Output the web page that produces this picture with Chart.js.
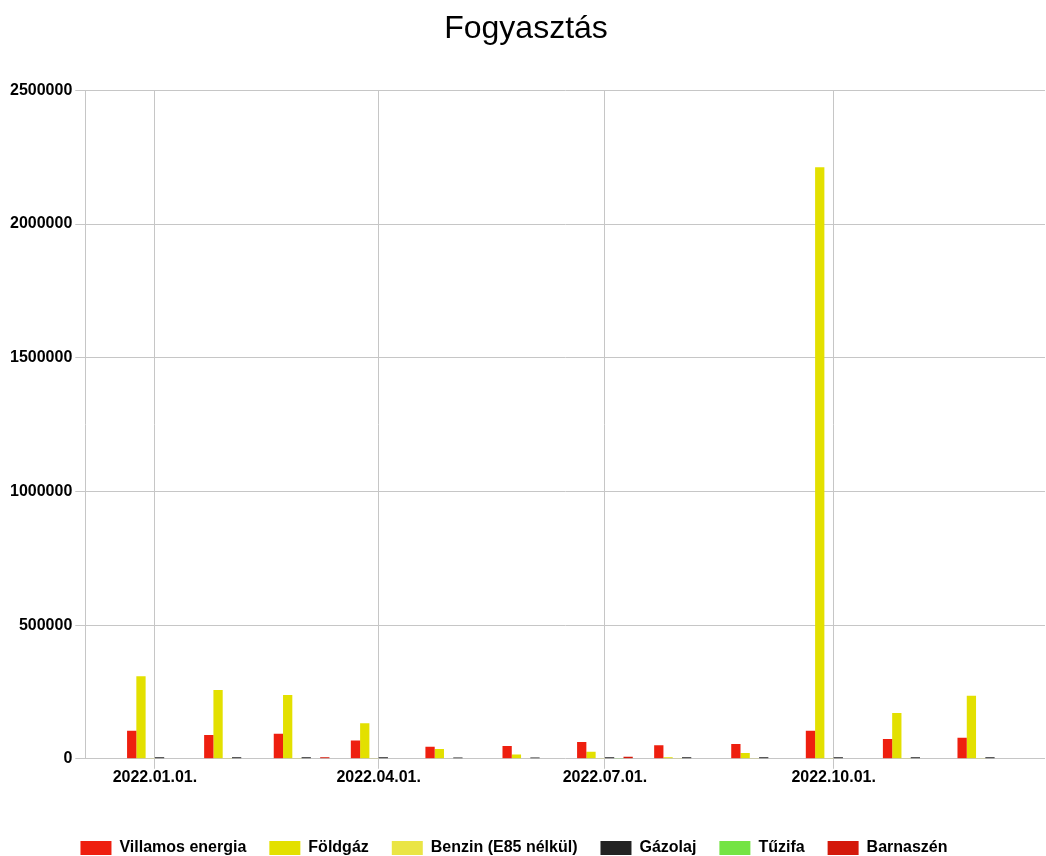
<!DOCTYPE html>
<html>
<head>
<meta charset="utf-8">
<title>Fogyasztás</title>
<script src="https://cdn.jsdelivr.net/npm/chart.js@4.4.0/dist/chart.umd.min.js"></script>
<style>
    html, body { margin: 0; padding: 0; background: #fff; }
    #wrap { width: 1046px; height: 856px; }
</style>
</head>
<body>
<div id="wrap"><canvas id="fogyChart"></canvas></div>
<script>
// Months (first day of each month, 2022)
const months = ['2022-01-01', '2022-02-01', '2022-03-01', '2022-04-01', '2022-05-01', '2022-06-01',
                '2022-07-01', '2022-08-01', '2022-09-01', '2022-10-01', '2022-11-01', '2022-12-01'];

// Series values
const villamos  = [105000, 89000, 94000, 68000, 45000, 48000, 63000, 51000, 55000, 105000, 74000, 79000];
const foldgaz   = [309000, 257000, 239000, 133000, 37000, 16000, 26000, 6000, 22000, 2213000, 171000, 236000];
const benzin    = [3000, 3000, 3000, 3000, 2000, 2000, 3000, 3000, 3000, 3000, 3000, 3000];
const gazolaj   = [6000, 6000, 6000, 6000, 5000, 5000, 6000, 6000, 6000, 6000, 6000, 6000];
const tuzifa    = [0, 0, 0, 0, 0, 0, 3000, 0, 0, 0, 0, 0];
const barnaszen = [0, 0, 6000, 0, 0, 0, 8000, 0, 0, 0, 0, 0];

// Tick labels on the date axis
const tickDates  = ['2022-01-01', '2022-04-01', '2022-07-01', '2022-10-01'];
const tickLabels = ['2022.01.01.', '2022.04.01.', '2022.07.01.', '2022.10.01.'];
const yTicks     = [0, 500000, 1000000, 1500000, 2000000, 2500000];

// days since 2022-01-01
const dayOf = function(s) {
    return Math.round((Date.parse(s + 'T00:00:00Z') - Date.UTC(2022, 0, 1)) / 86400000);
};
const monthDays = months.map(dayOf);
const tickDays = tickDates.map(dayOf);

function points(values) {
    return values.map((v, i) => ({ x: monthDays[i], y: v }));
}

const font = { family: "'Liberation Sans', Arial, sans-serif", size: 16, weight: 'bold' };
const gridColor = '#c6c6c6';

// legend in the reference sits a bit left of centre
const legendShift = {
    id: 'legendShift',
    afterLayout(chart) {
        chart.legend.left -= 12;
        chart.legend.right -= 12;
    }
};

new Chart(document.getElementById('fogyChart').getContext('2d'), {
    type: 'bar',
    data: {
        datasets: [
            { label: 'Villamos energia', data: points(villamos), backgroundColor: '#ee1f0f' },
            { label: 'Földgáz', data: points(foldgaz), backgroundColor: '#e3e000' },
            { label: 'Benzin (E85 nélkül)', data: points(benzin), backgroundColor: '#eae545' },
            { label: 'Gázolaj', data: points(gazolaj), backgroundColor: '#222222' },
            { label: 'Tűzifa', data: points(tuzifa), backgroundColor: '#74e444' },
            { label: 'Barnaszén', data: points(barnaszen), backgroundColor: '#d4180a' }
        ]
    },
    plugins: [legendShift],
    options: {
        responsive: true,
        maintainAspectRatio: false,
        animation: false,
        layout: { padding: { left: 7, right: 1, top: 4, bottom: -10 } },
        datasets: {
            bar: { categoryPercentage: 0.8, barPercentage: 1.0 }
        },
        plugins: {
            title: {
                display: true,
                text: 'Fogyasztás',
                color: '#000',
                font: { family: "'Liberation Sans', Arial, sans-serif", size: 32, weight: 'normal' },
                padding: { top: 6, bottom: 42 }
            },
            legend: {
                position: 'bottom',
                labels: {
                    color: '#000',
                    font: font,
                    boxWidth: 31,
                    boxHeight: 14,
                    padding: 23
                }
            },
            tooltip: { enabled: false }
        },
        scales: {
            x: {
                type: 'linear',
                min: -28,
                max: 358,
                offset: false,
                grid: { offset: false, color: gridColor, tickLength: 10 },
                border: { display: false },
                afterBuildTicks: function(scale) {
                    scale.ticks = tickDays.map(d => ({ value: d }));
                },
                afterFit: function(scale) {
                    scale.height += 31;
                },
                ticks: {
                    color: '#000',
                    font: font,
                    maxRotation: 0,
                    padding: -1,
                    callback: function(value) {
                        const i = tickDays.indexOf(value);
                        return i >= 0 ? tickLabels[i] : '';
                    }
                }
            },
            y: {
                min: 0,
                max: 2500000,
                afterBuildTicks: function(scale) {
                    scale.ticks = yTicks.map(v => ({ value: v }));
                },
                grid: { color: gridColor, tickLength: 10 },
                border: { display: true, color: gridColor },
                ticks: {
                    color: '#000',
                    font: font,
                    padding: 3,
                    callback: function(value) { return String(value); }
                }
            }
        }
    }
});
</script>
</body>
</html>
